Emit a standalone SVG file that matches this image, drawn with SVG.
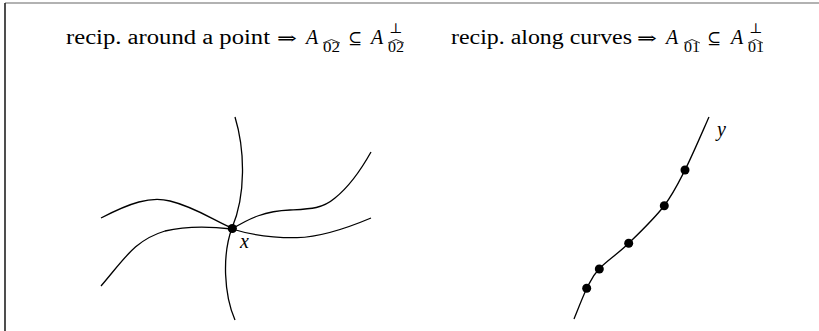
<svg xmlns="http://www.w3.org/2000/svg" width="819" height="331" viewBox="0 0 819 331">
<style>
.t{font-family:"Liberation Serif","DejaVu Serif",serif;font-size:20px;fill:#000}
.m{font-family:"Liberation Serif","DejaVu Serif",serif;font-size:20px;font-style:italic;fill:#000}
.s{font-family:"Liberation Serif","DejaVu Serif",serif;font-size:14px;fill:#000}
.sym{font-family:"DejaVu Serif","Liberation Serif",serif;font-size:17px;fill:#000}
.hat{fill:none;stroke:#000;stroke-width:0.8}
.c{fill:none;stroke:#000;stroke-width:1.3}
.d{fill:#000}
</style>
<rect width="819" height="331" fill="#fff"/>
<line x1="5" y1="3" x2="819" y2="3" stroke="#999" stroke-width="1.5"/>
<line x1="5" y1="3" x2="5" y2="331" stroke="#222" stroke-width="1.6"/>
<g id="title1">
<text class="t" x="66" y="44" textLength="204" lengthAdjust="spacingAndGlyphs">recip.  around a point</text>
<text class="sym" x="277" y="44" textLength="20" lengthAdjust="spacingAndGlyphs">⇒</text>
<text class="m" x="306" y="44">A</text>
<text class="s" x="323" y="51.5" textLength="17" lengthAdjust="spacingAndGlyphs">02</text>
<polyline class="hat" points="323,43 331.5,39.5 340,43"/>
<text class="sym" x="348" y="44" textLength="14" lengthAdjust="spacingAndGlyphs">⊆</text>
<text class="m" x="371" y="44">A</text>
<text class="s" x="389" y="33">⊥</text>
<text class="s" x="388" y="51.5" textLength="16" lengthAdjust="spacingAndGlyphs">02</text>
<polyline class="hat" points="388,43 396,39.5 404,43"/>
</g>
<g id="title2">
<text class="t" x="451" y="44" textLength="181" lengthAdjust="spacingAndGlyphs">recip.  along curves</text>
<text class="sym" x="637" y="44" textLength="20" lengthAdjust="spacingAndGlyphs">⇒</text>
<text class="m" x="666" y="44">A</text>
<text class="s" x="684" y="51.5" textLength="16" lengthAdjust="spacingAndGlyphs">01</text>
<polyline class="hat" points="684,43 692,39.5 700,43"/>
<text class="sym" x="707" y="44" textLength="14" lengthAdjust="spacingAndGlyphs">⊆</text>
<text class="m" x="731" y="44">A</text>
<text class="s" x="749" y="33">⊥</text>
<text class="s" x="748" y="51.5" textLength="16" lengthAdjust="spacingAndGlyphs">01</text>
<polyline class="hat" points="748,43 755.5,39.5 763,43"/>
</g>
<g id="connectors">
<path class="c" d="M235,117 C245,150 246,195 232,228 C222,255 224,295 235,320"/>
<path class="c" d="M101,218 C130,203 150,196 170,201 C195,207 215,221 232,228"/>
<path class="c" d="M101,286 C125,258 135,240 165,231 C190,225 215,227 232,229"/>
<path class="c" d="M232,229 C250,218 265,211 290,210 C310,209 322,209 335,198 C350,186 362,168 371,152"/>
<path class="c" d="M232,229 C255,236 275,238 297,237.7 C320,237 345,229 371,218"/>
<path class="c" d="M709,117 C705,125.8 692.5,155.2 685,170 C677.5,184.8 673.3,193.8 664,206 C654.7,218.2 639.8,232.5 629,243 C618.2,253.5 606,261.5 599,269 C592,276.5 591.2,279.7 587,288 C582.8,296.3 576.2,313.8 574,319"/>
</g>
<g id="point-x">
<circle class="d" cx="232.3" cy="228.5" r="4.6"/>
<text class="m" x="240" y="248" font-size="20">x</text>
</g>
<g id="curve-y">
<circle class="d" cx="685" cy="170" r="4.5"/>
<circle class="d" cx="664.3" cy="205.7" r="4.5"/>
<circle class="d" cx="628.7" cy="243.3" r="4.5"/>
<circle class="d" cx="599.3" cy="269" r="4.5"/>
<circle class="d" cx="586.7" cy="288.3" r="4.5"/>
<text class="m" x="717" y="136">y</text>
</g>
</svg>
